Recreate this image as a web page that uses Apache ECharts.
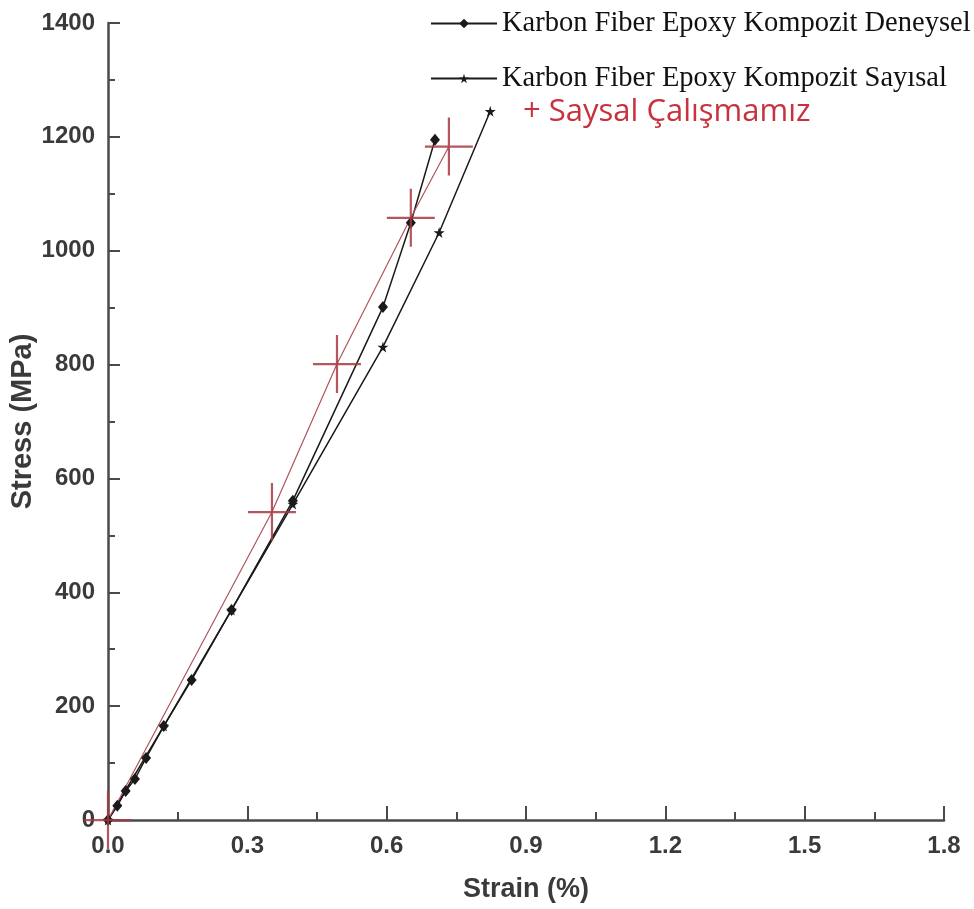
<!DOCTYPE html>
<html>
<head>
<meta charset="utf-8">
<script src="https://cdn.jsdelivr.net/npm/echarts@6/dist/echarts.min.js"></script>
<style>
html,body{margin:0;padding:0;background:#fff;}
#chart{width:974px;height:909px;}
</style>
</head>
<body>
<div id="chart"></div>
<script>
// ---- Data ----
const seriesNames = ['Karbon Fiber Epoxy Kompozit Deneysel', 'Karbon Fiber Epoxy Kompozit Sayısal', 'Saysal Çalışmamız'];
const deneyselStrain = [0, 0.02, 0.038, 0.058, 0.082, 0.12, 0.18, 0.266, 0.398, 0.592, 0.652, 0.704];
const deneyselStress = [0, 25, 51, 72, 109, 165, 246, 369, 561, 901, 1049, 1195];
const sayisalStrain = [0, 0.12, 0.266, 0.398, 0.592, 0.713, 0.823];
const sayisalStress = [0, 165, 369, 555, 831, 1032, 1245];
const calismaStrain = [0, 0.353, 0.493, 0.652, 0.734];
const calismaStress = [0, 541, 801, 1058, 1183];
const xTicks = [0, 0.3, 0.6, 0.9, 1.2, 1.5, 1.8];
const yTicks = [0, 200, 400, 600, 800, 1000, 1200, 1400];

const pair = (xs, ys) => xs.map((x, i) => [x, ys[i]]);

const starPath = 'path://M50,0 L61,35 L98,35 L68,57 L79,91 L50,70 L21,91 L32,57 L2,35 L39,35 Z';
const crossPath = 'path://M0,28 L48,28 L48,30.2 L0,30.2 Z M22.9,0 L25.1,0 L25.1,58 L22.9,58 Z';

const chart = echarts.init(document.getElementById('chart'));
const labelFont = {fontFamily: 'Liberation Sans', fontWeight: 'bold', fontSize: 24, color: '#3a3a3a'};

chart.setOption({
  animation: false,
  backgroundColor: '#ffffff',
  grid: {left: 108, right: 30, top: 23, bottom: 89, containLabel: false, outerBoundsMode: 'none'},
  legend: [{
    data: [seriesNames[0], seriesNames[1]],
    orient: 'vertical',
    left: 425, top: 4,
    itemWidth: 66, itemHeight: 12, itemGap: 26,
    textStyle: {fontFamily: 'Liberation Serif', fontSize: 28.5, lineHeight: 29, color: '#111'}
  }, {
    data: [seriesNames[2]],
    left: 513, top: 92,
    icon: 'none', itemWidth: 0, itemHeight: 10,
    formatter: '+ {name}',
    textStyle: {fontFamily: 'Open Sans', fontSize: 31, color: '#c8323e'}
  }],
  xAxis: {
    type: 'value', min: xTicks[0], max: xTicks[xTicks.length - 1], interval: 0.3,
    name: 'Strain (%)', nameLocation: 'middle', nameGap: 56,
    nameTextStyle: {fontFamily: 'Liberation Sans', fontWeight: 'bold', fontSize: 27, color: '#3a3a3a'},
    axisLine: {show: true, lineStyle: {color: '#4a4a4a', width: 2.5}},
    axisTick: {show: true, inside: true, length: 14, lineStyle: {color: '#4a4a4a', width: 2}},
    minorTick: {show: true, splitNumber: 2, length: 8, lineStyle: {color: '#4a4a4a', width: 2}},
    splitLine: {show: false},
    axisLabel: Object.assign({margin: 14, formatter: v => v.toFixed(1)}, labelFont)
  },
  yAxis: {
    type: 'value', min: yTicks[0], max: yTicks[yTicks.length - 1], interval: 200,
    name: 'Stress (MPa)', nameLocation: 'middle', nameGap: 71, nameRotate: 90,
    nameMoveOverlap: false,
    nameTextStyle: {fontFamily: 'Liberation Sans', fontWeight: 'bold', fontSize: 29, color: '#3a3a3a'},
    axisLine: {show: true, lineStyle: {color: '#4a4a4a', width: 2.5}},
    axisTick: {show: true, inside: true, length: 12, lineStyle: {color: '#4a4a4a', width: 2}},
    minorTick: {show: true, splitNumber: 2, length: 7, lineStyle: {color: '#4a4a4a', width: 2}},
    splitLine: {show: false},
    axisLabel: Object.assign({margin: 13, formatter: v => String(v)}, labelFont)
  },
  series: [{
    name: seriesNames[0], type: 'line',
    data: pair(deneyselStrain, deneyselStress),
    symbol: 'diamond', symbolSize: [10, 12],
    itemStyle: {color: '#1a1a1a'},
    lineStyle: {color: '#1a1a1a', width: 1.5}
  }, {
    name: seriesNames[1], type: 'line',
    data: pair(sayisalStrain, sayisalStress),
    symbol: starPath, symbolSize: 11,
    itemStyle: {color: '#1a1a1a'},
    lineStyle: {color: '#1a1a1a', width: 1.5}
  }, {
    name: seriesNames[2], type: 'line',
    data: pair(calismaStrain, calismaStress),
    symbol: crossPath, symbolSize: [48, 58],
    itemStyle: {color: 'rgba(168,56,66,0.85)'},
    lineStyle: {color: '#b0545c', width: 1.2},
    z: 3
  }]
});
</script>
</body>
</html>
